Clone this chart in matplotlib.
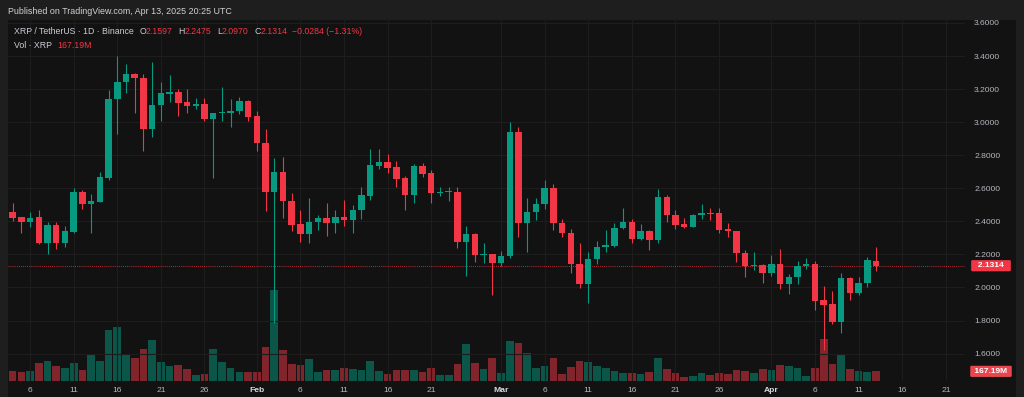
import matplotlib as mp
# Headless
mp.use('Agg')

import matplotlib.pyplot as plt
import matplotlib.dates as mdates
from matplotlib.patches import Rectangle
import numpy as np
import pandas as pd

plt.rcParams['font.family'] = ['Liberation Sans', 'DejaVu Sans']

# daily candles, XRP/USDT Binance, 2025-01-04 .. 2025-04-13
dates = pd.date_range('2025-01-04', '2025-04-13', freq='D')

opens = [2.454, 2.424, 2.398, 2.424, 2.266, 2.375, 2.270, 2.337, 2.577, 2.502,
         2.519, 2.664, 3.142, 3.241, 3.291, 3.269, 2.956, 3.101, 3.168, 3.180,
         3.120, 3.097, 3.110, 3.017, 3.053, 3.057, 3.065, 3.126,
         3.035, 2.876, 2.577, 2.700, 2.525, 2.381, 2.321, 2.396, 2.418, 2.390,
         2.426, 2.410, 2.468, 2.555, 2.734, 2.761, 2.728, 2.662, 2.559, 2.734,
         2.690, 2.574, 2.580, 2.580, 2.276, 2.326, 2.197, 2.201,
         2.149, 2.193, 2.942, 2.391, 2.455, 2.504, 2.603, 2.387, 2.330, 2.143,
         2.022, 2.173, 2.244, 2.250, 2.357, 2.395, 2.296, 2.340, 2.286, 2.550,
         2.436, 2.384, 2.368, 2.440, 2.453, 2.451, 2.352, 2.344, 2.211, 2.130,
         2.136,
         2.085, 2.140, 2.023, 2.065, 2.130, 2.144, 1.924, 1.900, 1.793, 2.055,
         1.964, 2.025, 2.1597]
highs = [2.508, 2.428, 2.456, 2.468, 2.398, 2.394, 2.371, 2.601, 2.589, 2.565,
         2.698, 3.194, 3.400, 3.352, 3.299, 3.291, 3.366, 3.243, 3.285, 3.198,
         3.200, 3.144, 3.144, 3.057, 3.210, 3.138, 3.154, 3.134,
         3.069, 2.956, 2.783, 2.787, 2.569, 2.468, 2.541, 2.438, 2.508, 2.468,
         2.529, 2.496, 2.605, 2.837, 2.835, 2.805, 2.763, 2.674, 2.747, 2.751,
         2.710, 2.609, 2.609, 2.609, 2.371, 2.330, 2.266, 2.205,
         2.219, 3.002, 2.968, 2.540, 2.544, 2.649, 2.623, 2.415, 2.355, 2.266,
         2.217, 2.280, 2.349, 2.391, 2.480, 2.415, 2.381, 2.347, 2.597, 2.562,
         2.469, 2.418, 2.444, 2.505, 2.483, 2.481, 2.392, 2.344, 2.227, 2.217,
         2.140,
         2.198, 2.235, 2.079, 2.162, 2.176, 2.158, 2.009, 1.979, 2.090, 2.061,
         2.061, 2.186, 2.2475]
lows = [2.402, 2.331, 2.367, 2.262, 2.202, 2.234, 2.246, 2.327, 2.472, 2.331,
        2.515, 2.650, 2.926, 3.178, 3.057, 2.827, 2.908, 3.009, 3.122, 3.037,
        3.053, 3.077, 3.009, 2.660, 3.009, 2.968, 3.049, 3.005,
        2.827, 2.460, 1.782, 2.422, 2.341, 2.277, 2.266, 2.347, 2.313, 2.327,
        2.371, 2.331, 2.414, 2.531, 2.714, 2.690, 2.605, 2.468, 2.508, 2.666,
        2.508, 2.553, 2.522, 2.236, 2.068, 2.153, 2.149, 1.957,
        2.129, 2.179, 2.304, 2.217, 2.411, 2.476, 2.347, 2.306, 2.088, 1.998,
        1.907, 2.139, 2.217, 2.246, 2.355, 2.270, 2.290, 2.226, 2.270, 2.395,
        2.356, 2.360, 2.364, 2.416, 2.408, 2.327, 2.303, 2.156, 2.061, 2.106,
        2.025,
        2.069, 1.989, 1.960, 2.021, 2.114, 1.864, 1.622, 1.779, 1.726, 1.924,
        1.952, 2.005, 2.0970]
closes = [2.418, 2.398, 2.422, 2.266, 2.375, 2.270, 2.341, 2.577, 2.502, 2.523,
          2.668, 3.142, 3.245, 3.293, 3.267, 2.956, 3.104, 3.174, 3.180, 3.114,
          3.097, 3.110, 3.017, 3.053, 3.061, 3.067, 3.126, 3.033,
          2.876, 2.577, 2.700, 2.525, 2.379, 2.321, 2.396, 2.418, 2.390, 2.424,
          2.410, 2.468, 2.559, 2.740, 2.761, 2.724, 2.658, 2.559, 2.736, 2.686,
          2.569, 2.580, 2.585, 2.276, 2.326, 2.199, 2.205, 2.149,
          2.193, 2.942, 2.391, 2.455, 2.504, 2.603, 2.387, 2.330, 2.139, 2.022,
          2.175, 2.246, 2.256, 2.361, 2.395, 2.296, 2.340, 2.286, 2.550, 2.437,
          2.380, 2.368, 2.440, 2.453, 2.447, 2.346, 2.340, 2.206, 2.132, 2.136,
          2.085,
          2.140, 2.023, 2.065, 2.130, 2.144, 1.920, 1.896, 1.793, 2.055, 1.964,
          2.025, 2.164, 2.1314]
# volume in millions of XRP
volume_m = [167, 150, 179, 306, 346, 259, 219, 306, 196, 444,
            346, 888, 934, 461, 398, 559, 715, 323, 259, 271,
            213, 98, 127, 559, 323, 231, 161, 150,
            161, 582, 1574, 530, 294, 282, 386, 150, 190, 190,
            219, 213, 190, 352, 173, 127, 190, 196, 190, 150,
            231, 98, 98, 300, 646, 317, 213, 398,
            138, 686, 657, 490, 225, 259, 398, 115, 242, 346,
            334, 254, 219, 179, 138, 138, 127, 150, 398, 202,
            138, 69, 86, 138, 104, 138, 121, 196, 173, 138,
            202,
            184, 271, 254, 225, 86, 225, 726, 294, 450, 202,
            167, 156, 167.19]

tick_days = ['2025-01-06', '2025-01-11', '2025-01-16', '2025-01-21', '2025-01-26',
             '2025-02-01', '2025-02-06', '2025-02-11', '2025-02-16', '2025-02-21',
             '2025-03-01', '2025-03-06', '2025-03-11', '2025-03-16', '2025-03-21',
             '2025-03-26', '2025-04-01', '2025-04-06', '2025-04-11', '2025-04-16',
             '2025-04-21']
tick_labels = ['6', '11', '16', '21', '26', 'Feb', '6', '11', '16', '21',
               'Mar', '6', '11', '16', '21', '26', 'Apr', '6', '11', '16', '21']
price_ticks = [1.6, 1.8, 2.0, 2.2, 2.4, 2.6, 2.8, 3.0, 3.2, 3.4, 3.6]
last_close = 2.1314
last_volume = 167.19

UP = '#089981'
DOWN = '#f23645'
PANEL = '#121212'
OUTER = '#1e1e1e'
TXT = '#c9ccd3'

W, H = 1024, 397
fig = plt.figure(figsize=(W / 100, H / 100), dpi=100)
fig.patch.set_facecolor(OUTER)
fig.patches.append(Rectangle((8 / W, 0), 1008 / W, 377 / H, transform=fig.transFigure,
                             facecolor=PANEL, edgecolor='none', zorder=-5))

ax = fig.add_axes([8 / W, 16 / H, 957 / W, 361 / H])
ax2 = ax.twinx()
ax.set_zorder(2)
ax2.set_zorder(1)
ax.patch.set_visible(False)
ax2.patch.set_visible(False)

x = mdates.date2num(dates)
o = np.array(opens); h = np.array(highs); l = np.array(lows); c = np.array(closes)
up = c >= o
cols = np.where(up, UP, DOWN)

# volume (overlay, bottom)
vcols = [(0.031, 0.6, 0.506, 0.5) if u else (0.949, 0.212, 0.271, 0.5) for u in up]
ax2.bar(x, volume_m, width=0.88, color=vcols, linewidth=0)
ax2.set_ylim(0, max(volume_m) * 3.97)
ax2.set_yticks([])

# candles
ax.vlines(x, l, h, colors=cols, linewidth=0.8, zorder=3)
body_lo = np.minimum(o, c)
body_h = np.maximum(np.abs(c - o), 0.005)
ax.bar(x, body_h, bottom=body_lo, width=0.74, color=cols, linewidth=0, zorder=4)

ax.axhline(last_close, color=DOWN, linewidth=0.6, linestyle=(0, (1, 1.5)), zorder=2)

ax.set_xlim(x[0] - 0.53, x[0] + 109.2)
ax.set_ylim(1.434, 3.618)

ax.set_xticks(mdates.date2num(pd.to_datetime(tick_days)))
ax.set_xticklabels(tick_labels)
ax.set_yticks(price_ticks)
ax.set_yticklabels(['%.4f' % p for p in price_ticks])
ax.yaxis.tick_right()
ax.tick_params(axis='both', length=0, labelsize=6.1, colors='#b4b7be')
ax.tick_params(axis='y', pad=6.5)
ax.tick_params(axis='x', pad=4)
for t in ax.get_xticklabels():
    if t.get_text() in ('Feb', 'Mar', 'Apr'):
        t.set_fontweight('bold')
        t.set_color('#d6d8de')
ax.grid(True, color='#1d1d1d', linewidth=0.8, zorder=0)
ax.set_axisbelow(True)
for a in (ax, ax2):
    for s in a.spines.values():
        s.set_visible(False)

# last price tags, centred in the price scale column
tag_x = 1.0 + 26 / 957
ax.text(tag_x, last_close, '  2.1314  ', transform=ax.get_yaxis_transform(),
        ha='center', va='center', fontsize=6, color='white', fontweight='bold',
        bbox=dict(boxstyle='round,pad=0.25,rounding_size=0.15', fc=DOWN, ec='none'),
        clip_on=False, zorder=6)
ax.text(tag_x, last_volume, ' 167.19M ',
        transform=mp.transforms.blended_transform_factory(ax.transAxes, ax2.transData),
        ha='center', va='center', fontsize=6, color='white', fontweight='bold',
        bbox=dict(boxstyle='round,pad=0.25,rounding_size=0.15', fc='#e8474f', ec='none'),
        clip_on=False, zorder=6)

# header and legend
fig.text(8 / W, 1 - 11.5 / H, 'Published on TradingView.com, Apr 13, 2025 20:25 UTC',
         fontsize=6.4, color='#d2d2d2', va='center', ha='left')


def legend_line(parts, x0, y0):
    t = fig.text(x0, y0, parts[0][0], color=parts[0][1], fontsize=6.3, va='center', ha='left')
    for s, col, gap in parts[1:]:
        t = ax.annotate(s, xy=(1, 0.5), xycoords=t, xytext=(gap, 0), textcoords='offset points',
                        color=col, fontsize=6.3, va='center', ha='left', annotation_clip=False)


legend_line([('XRP / TetherUS · 1D · Binance', TXT),
             ('O', TXT, 4), ('2.1597', DOWN, 0), ('H', TXT, 4), ('2.2475', DOWN, 0),
             ('L', TXT, 4), ('2.0970', DOWN, 0), ('C', TXT, 4), ('2.1314', DOWN, 0),
             ('\u22120.0284 (\u22121.31%)', DOWN, 3)], 14 / W, 1 - 32 / H)
legend_line([('Vol \u00b7 XRP', TXT), ('167.19M', DOWN, 4)], 14 / W, 1 - 46 / H)

fig.savefig('out.png', dpi=100, facecolor=OUTER)
